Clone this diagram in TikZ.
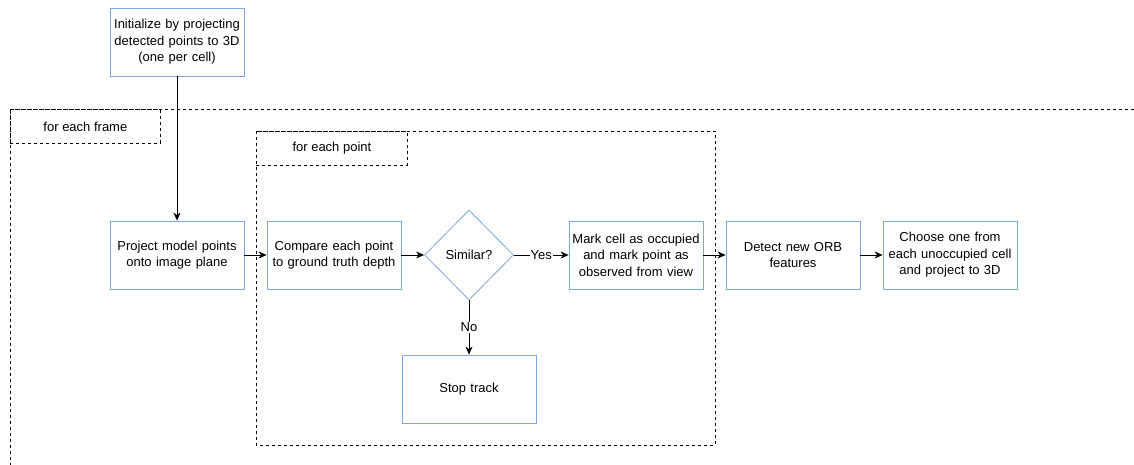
\documentclass[tikz,border=0pt]{standalone}
\usepackage{fontspec}
\setmainfont{Liberation Sans}
\usetikzlibrary{arrows.meta,shapes.geometric}
\definecolor{boxblue}{HTML}{7EA6E0}
\tikzset{
  x=1pt, y=-1pt,
  every node/.style={font=\fontsize{13}{16.5}\selectfont, text=black},
  procbox/.style={draw=boxblue, line width=0.8pt, minimum width=134pt, minimum height=68pt,
    align=center, text width=130pt, inner sep=0pt},
  decision/.style={draw=boxblue, line width=0.8pt, diamond, minimum width=89pt, minimum height=90pt,
    aspect=1, inner sep=0pt, shape aspect=1},
  loopframe/.style={draw=black, dashed, dash pattern=on 3pt off 3pt, line width=0.8pt},
  flow/.style={draw=black, line width=0.8pt, -{Stealth[length=8pt,width=7pt,inset=2.5pt]}},
  edgelabel/.style={fill=white, inner sep=1pt}
}
\begin{document}
\begin{tikzpicture}
\useasboundingbox (0,0) rectangle (1134,465);

% outer loop: runs past the page edges
\begin{scope}
  \clip (0,0) rectangle (1134,465);
  \draw[loopframe] (10,109) rectangle (1160,490);
\end{scope}
\node[loopframe, minimum width=150pt, minimum height=34pt, anchor=north west, inner sep=0pt]
  (framelbl) at (10,109) {for each frame};

% inner loop over points
\draw[loopframe] (256,131) rectangle (715,445);
\node[loopframe, minimum width=151pt, minimum height=34pt, anchor=north west, inner sep=0pt]
  (pointlbl) at (256,131) {for each point};

% process steps
\node[procbox] (init) at (177,42) {Initialize by projecting\\detected points to 3D\\(one per cell)};
\node[procbox] (project) at (177,255) {Project model points\\onto image plane};
\node[procbox] (compare) at (334,255) {Compare each point\\to ground truth depth};
\node[decision] (similar) at (469,255) {Similar?};
\node[procbox] (mark) at (636,255) {Mark cell as occupied\\and mark point as\\observed from view};
\node[procbox] (detect) at (793,255) {Detect new ORB\\features};
\node[procbox] (choose) at (950,255) {Choose one from\\each unoccupied cell\\and project to 3D};
\node[procbox] (stop) at (469,389) {Stop track};

% connectors
\draw[flow] (init) -- (project);
\draw[flow] (project) -- (compare);
\draw[flow] (compare) -- (similar);
\draw[flow] (similar) -- node[edgelabel] {Yes} (mark);
\draw[flow] (similar) -- node[edgelabel] {No} (stop);
\draw[flow] (mark) -- (detect);
\draw[flow] (detect) -- (choose);
\end{tikzpicture}
\end{document}
